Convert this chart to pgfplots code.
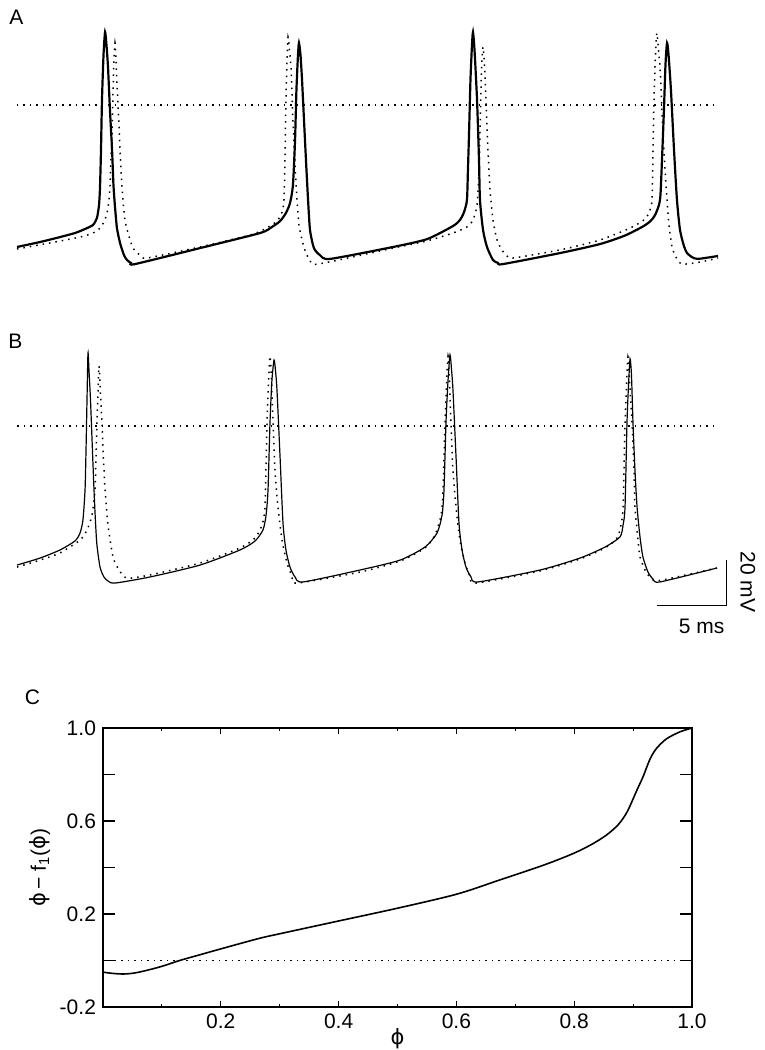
\documentclass[border=0pt]{standalone}
\usepackage{pgfplots}
\pgfplotsset{compat=1.18}
\usepackage{fontspec}
\setmainfont{Liberation Sans}
\newfontfamily\phifont{DejaVu Sans}
\newcommand{\phisym}{{\phifont ϕ}}

% traces: time in ms, voltage in mV
\pgfplotstableread{
t V
0.00 -63.1
1.64 -60.9
3.07 -58.7
4.14 -56.9
4.86 -55.1
5.43 -53.3
5.71 -50.2
5.86 -44.4
5.93 -36.4
6.00 -20.0
6.07 2.2
6.18 22.2
6.29 32.4
6.39 26.7
6.50 16.9
6.64 -2.2
6.79 -20.0
6.89 -35.6
7.00 -45.3
7.14 -54.7
7.36 -61.3
7.64 -66.7
7.86 -68.9
8.14 -70.2
8.43 -70.7
13.07 -63.6
17.36 -56.9
18.21 -54.2
18.79 -51.6
19.21 -48.0
19.50 -43.6
19.71 -35.6
19.86 -15.6
19.96 6.7
20.07 22.2
20.14 27.6
20.25 22.2
20.36 11.1
20.50 -6.7
20.64 -24.4
20.79 -42.2
20.93 -55.6
21.21 -63.6
21.64 -66.7
22.36 -68.4
26.86 -63.1
29.29 -59.6
31.14 -53.8
31.64 -51.1
31.93 -47.6
32.14 -42.2
32.21 -28.9
32.29 -12.4
32.39 11.1
32.50 26.7
32.57 32.4
32.68 24.4
32.86 2.2
33.00 -24.4
33.07 -42.2
33.29 -55.6
33.57 -63.1
34.00 -68.9
34.36 -70.2
34.71 -70.7
38.79 -65.8
41.64 -61.8
43.43 -58.0
44.71 -54.0
45.21 -51.8
45.57 -49.0
45.93 -42.2
46.07 -24.4
46.21 -2.2
46.32 17.8
46.43 27.6
46.54 22.2
46.71 6.7
46.93 -20.0
47.14 -42.2
47.36 -55.6
47.64 -62.7
47.86 -65.8
48.21 -67.6
48.64 -68.4
50.07 -67.1
}\solidA

\pgfplotstableread{
t V
0.00 -64.0
2.36 -61.3
4.50 -58.7
5.43 -56.9
5.93 -54.7
6.21 -52.0
6.43 -48.0
6.57 -42.2
6.64 -36.4
6.71 -24.4
6.79 -12.4
6.86 6.7
6.93 20.0
7.00 27.6
7.07 20.0
7.14 9.8
7.25 -4.4
7.36 -20.0
7.46 -32.4
7.57 -42.2
7.71 -51.1
7.93 -56.9
8.29 -63.6
8.79 -66.7
9.29 -68.0
13.07 -63.1
16.64 -57.8
17.71 -55.1
18.57 -51.6
18.93 -47.6
19.07 -42.2
19.14 -24.4
19.21 2.2
19.29 20.0
19.36 30.2
19.46 24.4
19.57 16.9
19.71 -6.7
19.86 -26.7
20.00 -42.2
20.14 -53.3
20.36 -60.0
20.64 -65.8
20.93 -68.9
21.50 -70.7
26.86 -63.6
29.29 -60.4
31.14 -56.9
32.14 -54.2
32.57 -51.1
32.86 -44.4
33.00 -28.9
33.07 -12.4
33.14 6.7
33.21 20.0
33.29 25.8
33.39 17.8
33.50 2.2
33.64 -20.0
33.79 -37.8
34.00 -51.1
34.29 -60.0
34.64 -64.4
35.00 -67.1
35.43 -68.0
38.79 -64.4
41.64 -60.0
43.79 -54.7
44.86 -50.7
45.21 -46.7
45.36 -42.2
45.43 -20.0
45.50 2.2
45.57 16.9
45.64 26.7
45.71 32.0
45.82 24.4
45.93 16.9
46.04 2.2
46.14 -12.4
46.29 -28.9
46.43 -42.2
46.57 -53.3
46.79 -63.1
47.07 -67.6
47.50 -70.7
48.79 -69.8
50.07 -68.0
}\dottedA

\pgfplotstableread{
t V
0.00 -61.8
1.64 -58.7
3.07 -55.1
4.14 -51.1
4.50 -47.6
4.71 -41.8
4.86 -28.4
4.93 -10.7
5.00 11.6
5.07 32.4
5.14 24.9
5.25 11.6
5.36 -6.2
5.50 -28.4
5.61 -43.1
5.71 -52.9
5.93 -62.7
6.21 -67.1
6.50 -68.9
7.00 -69.8
9.50 -67.1
13.07 -61.8
15.93 -55.1
17.00 -51.1
17.57 -46.2
17.79 -39.6
17.93 -28.4
18.07 1.3
18.21 20.4
18.36 29.3
18.46 24.9
18.57 16.0
18.79 -13.8
19.00 -43.1
19.21 -55.1
19.50 -62.7
19.86 -67.1
20.43 -69.3
24.50 -64.0
27.36 -59.6
29.14 -53.8
30.00 -47.6
30.36 -39.6
30.50 -28.4
30.64 1.3
30.79 20.4
30.93 31.6
31.04 24.9
31.14 16.0
31.36 -13.8
31.57 -43.1
31.79 -55.1
32.07 -62.7
32.43 -67.1
32.93 -69.3
37.36 -64.0
40.21 -58.7
42.00 -53.8
43.07 -49.3
43.29 -44.0
43.43 -36.0
43.57 1.3
43.68 18.2
43.79 29.8
43.89 22.7
44.00 1.3
44.14 -19.6
44.29 -36.0
44.50 -49.3
44.71 -58.2
45.07 -64.9
45.43 -68.0
45.93 -69.3
50.00 -63.1
}\solidB

\pgfplotstableread{
t V
0.00 -62.7
1.64 -59.6
3.07 -56.4
4.50 -50.7
5.00 -46.2
5.36 -39.6
5.57 -28.4
5.64 -15.1
5.71 1.3
5.79 16.0
5.86 26.7
5.93 18.2
6.07 1.3
6.18 -15.1
6.29 -28.4
6.50 -44.0
6.86 -58.2
7.29 -64.0
7.86 -67.6
9.50 -66.2
13.07 -60.9
15.93 -54.2
17.00 -49.8
17.50 -44.0
17.71 -36.0
17.86 1.3
17.96 18.2
18.07 31.1
18.18 20.4
18.29 1.3
18.43 -19.6
18.64 -36.0
18.93 -50.7
19.29 -60.9
19.64 -66.7
20.00 -69.8
24.50 -64.9
27.36 -60.0
29.14 -54.2
29.86 -48.4
30.29 -39.6
30.43 -28.4
30.57 1.3
30.68 18.2
30.79 31.1
30.89 20.4
31.00 1.3
31.14 -19.6
31.36 -36.0
31.64 -50.7
32.00 -60.9
32.36 -66.7
32.79 -69.8
37.36 -64.4
40.21 -59.1
42.00 -54.2
42.86 -49.8
43.14 -44.0
43.29 -36.0
43.43 1.3
43.54 18.2
43.64 30.7
43.75 20.4
43.93 1.3
44.07 -19.6
44.14 -36.0
44.36 -50.7
44.50 -58.2
44.93 -64.9
45.43 -68.4
46.14 -68.4
50.00 -63.1
}\dottedB

\pgfplotstableread{
p d
0.000 -0.050
0.015 -0.055
0.033 -0.058
0.050 -0.055
0.070 -0.045
0.100 -0.025
0.130 0.000
0.165 0.025
0.200 0.050
0.265 0.095
0.300 0.115
0.400 0.170
0.500 0.225
0.600 0.285
0.673 0.346
0.750 0.412
0.800 0.462
0.830 0.500
0.855 0.540
0.875 0.585
0.890 0.640
0.906 0.730
0.917 0.791
0.929 0.868
0.940 0.913
0.957 0.954
0.980 0.984
1.000 1.000
}\prc

\begin{document}
\begin{tikzpicture}[font=\fontsize{10.5}{12.5}\selectfont]
\useasboundingbox (0,0) rectangle (382.5pt,-525pt);
\tikzset{dots/.style={black, line width=0.75pt, dash pattern=on 0.75pt off 2.5pt}}
\pgfplotsset{trace/.style={hide axis, scale only axis, x=7pt, y=1.125pt,
  xmin=0, xmax=50, ymin=-80, ymax=40, clip=false, anchor=south west}}

\node[font=\fontsize{10.5}{12}\selectfont] at (8.25pt,-8.75pt) {A};
\node[font=\fontsize{10.5}{12}\selectfont] at (7.75pt,-170.5pt) {B};
\node[font=\fontsize{10.5}{12}\selectfont] at (16.25pt,-348.5pt) {C};

% panel A
\begin{axis}[trace, at={(8.5pt,-142.5pt)}]
\addplot[dots] coordinates {(0,0) (50,0)};
\addplot[dots, smooth, tension=0.4] table[x=t, y=V] {\dottedA};
\addplot[black, line width=1.1pt, smooth, tension=0.4] table[x=t, y=V] {\solidA};
\end{axis}

% panel B
\begin{axis}[trace, at={(8.5pt,-303pt)}]
\addplot[dots] coordinates {(0,0) (50,0)};
\addplot[dots, smooth, tension=0.4] table[x=t, y=V] {\dottedB};
\addplot[black, line width=0.6pt, smooth, tension=0.4] table[x=t, y=V] {\solidB};
% scale bar
\addplot[black, line width=0.6pt] coordinates {(45.7,-79.6) (50.7,-79.6) (50.7,-59.6)};
\node[rotate=-90] at (axis cs:52.2,-69.3) {20 mV};
\node at (axis cs:48.9,-89.0) {5 ms};
\end{axis}

% panel C
\begin{axis}[at={(51.5pt,-503.5pt)}, anchor=south west,
  width=294.5pt, height=139.5pt, scale only axis,
  xmin=0, xmax=1, ymin=-0.2, ymax=1,
  xtick={0.2,0.4,0.6,0.8,1.0},
  minor xtick={0.1,0.3,0.5,0.7,0.9},
  ytick=\empty,
  extra y ticks={-0.2,0,0.2,0.4,0.6,0.8,1.0},
  extra y tick labels={-0.2,,0.2,,0.6,,1.0},
  extra y tick style={major tick length=6pt},
  major tick length=3pt, minor tick length=1.5pt,
  tick style={black, line width=0.6pt},
  axis line style={line width=0.6pt},
  xticklabel style={/pgf/number format/.cd, fixed, fixed zerofill, precision=1},
  /pgf/number format/assume math mode=true,
  xlabel={\phisym},
  xlabel style={at={(axis description cs:0.5,0)}, anchor=center, yshift=-16pt},
  ylabel={\phisym\,− f\textsubscript{1}(\phisym)},
  ylabel style={at={(axis description cs:-0.107,0.5)}, anchor=center},
]
\addplot[dots, line width=0.6pt] coordinates {(0.02,0) (0.98,0)};
\addplot[black, line width=0.8pt, smooth] table[x=p, y=d] {\prc};
\end{axis}
\end{tikzpicture}
\end{document}
